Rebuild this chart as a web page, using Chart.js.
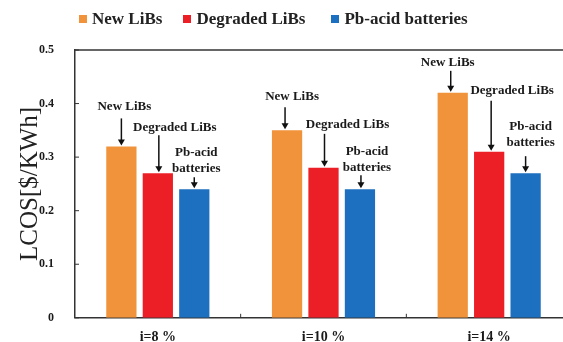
<!DOCTYPE html>
<html><head><meta charset="utf-8">
<script src="https://cdn.jsdelivr.net/npm/chart.js@4.4.1/dist/chart.umd.min.js"></script>
<style>
html,body{margin:0;padding:0;background:#fff;overflow:hidden;width:563px;height:342px}
#wrap{position:relative;width:572px;height:346px}
#legend{position:absolute;left:79px;top:8px;display:flex;font:bold 17px "Liberation Serif";color:#222;white-space:nowrap;line-height:21px}
.item{display:flex;align-items:center;margin-right:21px}
.item:nth-child(2){margin-right:26px}
.sw{width:8px;height:8px;margin-right:5px}
canvas{display:block}
</style></head><body>
<div id="wrap"><canvas id="c" width="572" height="346"></canvas><div id="legend"></div></div>
<script>
// ---- data ----
const categories = ['i=8 %', 'i=10 %', 'i=14 %'];
const seriesNames = ['New LiBs', 'Degraded LiBs', 'Pb-acid batteries'];
const newLiBs = [0.32, 0.35, 0.42];
const degradedLiBs = [0.27, 0.28, 0.31];
const pbAcid = [0.24, 0.24, 0.27];
const yTicks = [0, 0.1, 0.2, 0.3, 0.4, 0.5];
const annotationText = [['New LiBs'], ['Degraded LiBs'], ['Pb-acid', 'batteries']];

// ---- styles ----
const colors = ['#F0933A', '#EC1F27', '#1D6FBF'];
const AX = '#333';
// per series, per category: text dx, text dy (first line centre rel. bar top), arrow dx, arrow start rel. bar top
const annoOffsets = [
  [{tx:3,ty:-40,ax:0,as:-28},{tx:5,ty:-34,ax:-2,as:-23},{tx:-5,ty:-30,ax:-2,as:-22}],
  [{tx:17,ty:-46,ax:1,as:-38},{tx:24,ty:-43,ax:1,as:-34},{tx:23,ty:-61,ax:2,as:-51}],
  [{tx:2,ty:-37,ax:0,as:-12},{tx:7,ty:-38,ax:1,as:-14},{tx:5,ty:-47,ax:0,as:-17}]
];

const seriesValues = [newLiBs, degradedLiBs, pbAcid];

// legend (HTML)
const lg = document.getElementById('legend');
seriesNames.forEach((n, i) => {
  const it = document.createElement('div'); it.className = 'item';
  const sw = document.createElement('span'); sw.className = 'sw'; sw.style.background = colors[i];
  const tx = document.createElement('span'); tx.textContent = n;
  it.appendChild(sw); it.appendChild(tx); lg.appendChild(it);
});

const framePlugin = {
  id: 'frame',
  afterDraw(chart) {
    const {ctx, chartArea: a, scales} = chart;
    ctx.save();
    ctx.strokeStyle = AX; ctx.lineWidth = 1.5;
    ctx.beginPath(); ctx.moveTo(a.left, a.top); ctx.lineTo(a.right, a.top); ctx.stroke();
    ctx.lineWidth = 1;
    scales.y.ticks.forEach((t, i) => {
      const y = scales.y.getPixelForTick(i);
      ctx.beginPath(); ctx.moveTo(a.left, y); ctx.lineTo(a.left + 4, y); ctx.stroke();
    });
    const n = categories.length;
    for (let i = 1; i < n; i++) {
      const x = (scales.x.getPixelForValue(i - 1) + scales.x.getPixelForValue(i)) / 2;
      ctx.beginPath(); ctx.moveTo(x, a.bottom); ctx.lineTo(x, a.bottom - 4); ctx.stroke();
    }
    ctx.restore();
  }
};

const annoPlugin = {
  id: 'anno',
  afterDatasetsDraw(chart) {
    const ctx = chart.ctx;
    ctx.save();
    ctx.font = 'bold 13px "Liberation Serif"';
    ctx.textAlign = 'center'; ctx.textBaseline = 'middle';
    chart.data.datasets.forEach((ds, d) => {
      const meta = chart.getDatasetMeta(d);
      meta.data.forEach((el, j) => {
        const o = annoOffsets[d][j];
        const xc = el.x, yt = el.y;
        ctx.fillStyle = '#1a1a1a';
        annotationText[d].forEach((line, k) => {
          ctx.fillText(line, xc + o.tx, yt + o.ty + k * 16);
        });
        const ax = xc + o.ax;
        ctx.strokeStyle = '#111'; ctx.lineWidth = 1.5;
        ctx.beginPath(); ctx.moveTo(ax, yt + o.as); ctx.lineTo(ax, yt - 5); ctx.stroke();
        ctx.fillStyle = '#111';
        ctx.beginPath(); ctx.moveTo(ax - 3.5, yt - 7); ctx.lineTo(ax + 3.5, yt - 7); ctx.lineTo(ax, yt - 1); ctx.closePath(); ctx.fill();
      });
    });
    ctx.restore();
  }
};

new Chart(document.getElementById('c'), {
  type: 'bar',
  data: {
    labels: categories,
    datasets: seriesValues.map((v, i) => ({
      label: seriesNames[i], data: v, backgroundColor: colors[i],
      categoryPercentage: 0.66, barPercentage: 0.83
    }))
  },
  options: {
    responsive: false, animation: false,
    layout: {padding: {top: 50, right: 0, bottom: 0, left: 0}},
    plugins: {legend: {display: false}, tooltip: {enabled: false}},
    scales: {
      x: {
        afterFit(s) { s.height = 25; },
        grid: {display: false, drawTicks: false},
        border: {display: true, color: AX, width: 1.5},
        ticks: {padding: 11, color: '#1a1a1a', font: {family: 'Liberation Serif', size: 14, weight: 'bold'}}
      },
      y: {
        min: 0, max: 0.5,
        afterBuildTicks(s) { s.ticks = yTicks.map(v => ({value: v})); },
        afterFit(s) { s.width = 75; },
        grid: {display: false, drawTicks: false},
        border: {display: true, color: AX, width: 1.5},
        ticks: {padding: 21, color: '#1a1a1a', font: {family: 'Liberation Serif', size: 12, weight: 'bold'},
          callback: v => String(v)},
        title: {display: true, text: 'LCOS[$/KWh]', color: '#222', padding: {top: 15, bottom: 0},
          font: {family: 'Liberation Serif', size: 25, weight: 'normal'}}
      }
    }
  },
  plugins: [framePlugin, annoPlugin]
});
</script>
</body></html>
